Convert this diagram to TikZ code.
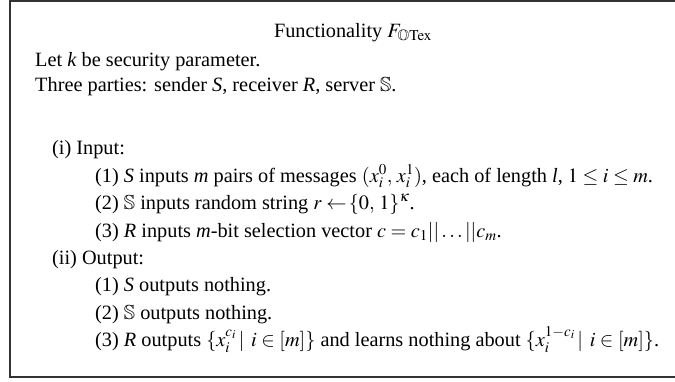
\documentclass[tikz,border=0pt]{standalone}
\usepackage{amssymb}
\usepackage{mathptmx}
\usepackage{fontspec}
\setmainfont{Liberation Serif}
\tikzset{
  frame/.style={draw=black!80, line width=2pt},
  txt/.style={anchor=base west, inner sep=0pt, font=\fontsize{20.3}{24}\selectfont},
  ttl/.style={anchor=base, inner sep=0pt, font=\fontsize{20.3}{24}\selectfont}
}
\begin{document}
\begin{tikzpicture}[x=1pt,y=-1pt]
  \useasboundingbox (0,0) rectangle (675,381);
  \clip (0,0) rectangle (675,381);
  % outer frame (runs past the right edge)
  \draw[frame] (10,1) rectangle (700,377);
  % heading and preamble lines
  \node[ttl] (title) at (353,37) {Functionality $F_{\mathbb{O}\mathrm{Tex}}$};
  \node[txt] (let) at (35,66) {Let \textit{k} be security parameter.};
  \node[txt] (parties) at (35,91) {Three parties: sender \textit{S}, receiver \textit{R}, server $\mathbb{S}$.};
  % input phase
  \node[txt] (inp) at (52,154) {(i) Input:};
  \node[txt] (in1) at (95,182) {(1) \textit{S} inputs \textit{m} pairs of messages $(x_i^0,\,x_i^1)$, each of length \textit{l}, $1 \le i \le m$.};
  \node[txt] (in2) at (95,209) {(2) $\mathbb{S}$ inputs random string $r \leftarrow\!\{0,\,1\}^{\kappa}$.};
  \node[txt] (in3) at (95,237) {(3) \textit{R} inputs \textit{m}-bit selection vector $c = c_1||\ldots||c_m$.};
  % output phase
  \node[txt] (out) at (52,264) {(ii) Output:};
  \node[txt] (out1) at (95,291) {(1) \textit{S} outputs nothing.};
  \node[txt] (out2) at (95,319) {(2) $\mathbb{S}$ outputs nothing.};
  \node[txt] (out3) at (95,346) {(3) \textit{R} outputs $\{x_i^{c_i}\,|\;\, i \in [m]\}$ and learns nothing about $\{x_i^{1-c_i}\,|\;\, i \in [m]\}$.};
\end{tikzpicture}
\end{document}
